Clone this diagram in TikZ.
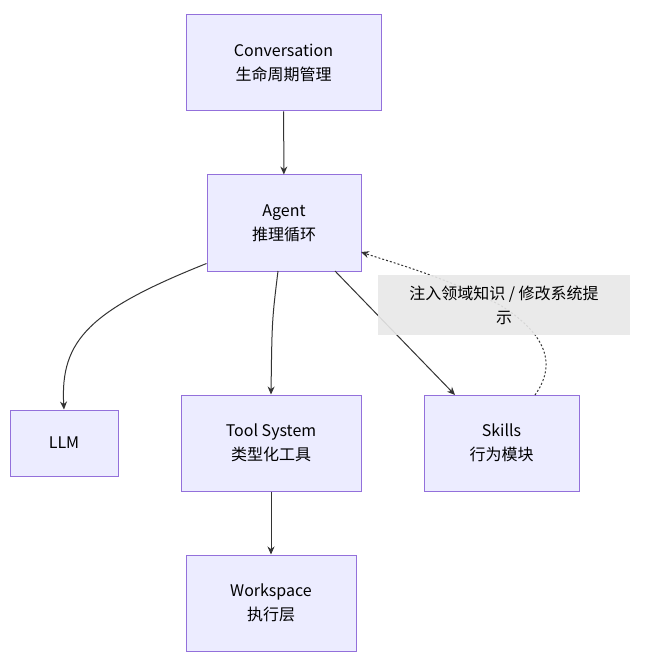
\documentclass[tikz,border=0pt]{standalone}
\usepackage{fontspec}
\setmainfont{Noto Sans CJK SC}
\usetikzlibrary{arrows.meta}
\definecolor{boxfill}{HTML}{ECECFF}
\definecolor{boxline}{HTML}{9370DB}
\definecolor{edge}{HTML}{333333}
\begin{document}
\begin{tikzpicture}[
  x = 1pt, y = -1pt,
  every node/.style = {font=\fontsize{16}{24}\selectfont, align=center},
  block/.style = {draw=boxline, fill=boxfill, line width=1pt, inner sep=0pt},
  link/.style = {-{Stealth[length=8pt,width=7pt]}, draw=edge, line width=1pt}
  ]
  \useasboundingbox (0,0) rectangle (644,668);
  \node[block, minimum width=195, minimum height=96] (conv) at (283.5,63) {Conversation\\生命周期管理};
  \node[block, minimum width=154, minimum height=96] (agent) at (284,223) {Agent\\推理循环};
  \node[block, minimum width=108, minimum height=66] (llm) at (64,443) {LLM};
  \node[block, minimum width=180, minimum height=96] (tool) at (271,443) {Tool System\\类型化工具};
  \node[block, minimum width=155, minimum height=96] (skills) at (501.5,443) {Skills\\行为模块};
  \node[block, minimum width=170, minimum height=96] (ws) at (271,603) {Workspace\\执行层};
  \draw[link] (conv) -- (agent);
  \draw[link] (agent.south west) ++(0,-8) .. controls (90,310) and (60,340) .. (llm.north);
  \draw[link] (278,271) .. controls (272,320) .. (tool.north);
  \draw[link] (335,271) -- (455,395);
  \draw[link] (tool) -- (ws);
  \draw[link, dashed, dash pattern=on 2pt off 2pt] (535,395) .. controls (560,360) and (540,330) .. (500,305)
    .. controls (440,275) and (390,262) .. (361,252);
  \node[fill=gray!18, fill opacity=0.9, text opacity=1, minimum width=252, minimum height=60, inner sep=0pt] (lbl) at (504,305)
    {注入领域知识 / 修改系统提\\示};
\end{tikzpicture}
\end{document}
